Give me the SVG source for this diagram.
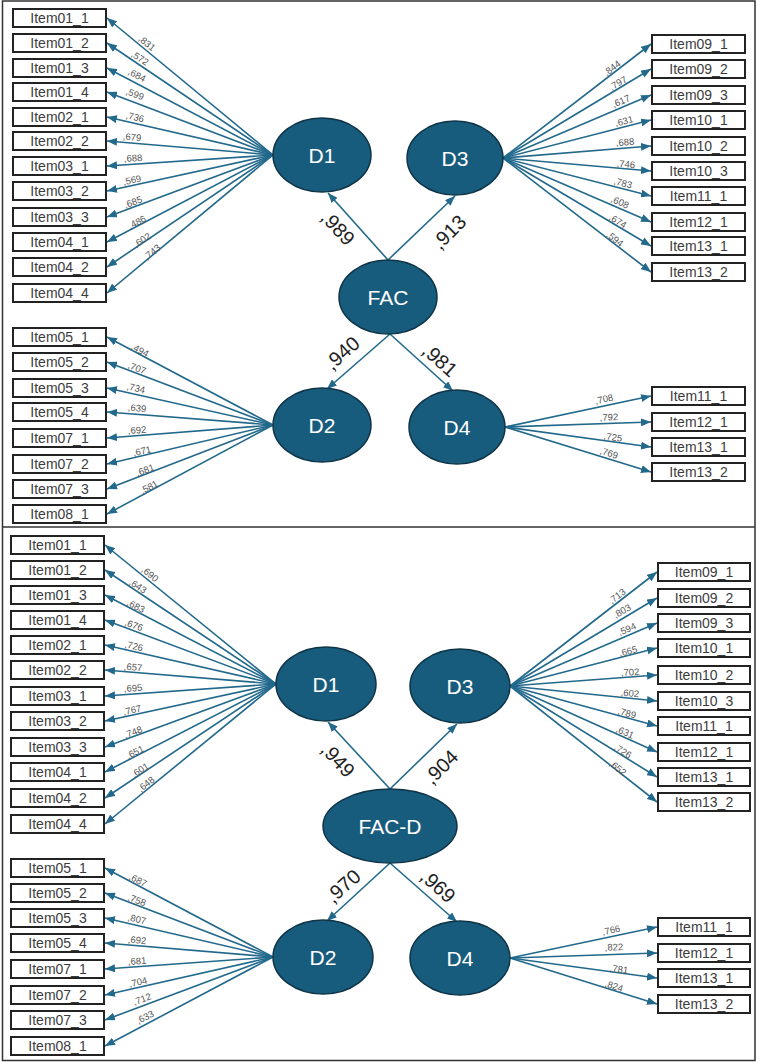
<svg xmlns="http://www.w3.org/2000/svg" width="757" height="1063" viewBox="0 0 757 1063">
<style>
.bx rect{fill:#fff;stroke:#222;stroke-width:2}
.bx text{font-family:"Liberation Sans",Arial,sans-serif;font-size:14px;fill:#3c3c3c;text-anchor:middle}
.lv ellipse{fill:#185c7d;stroke:#0f3447;stroke-width:1.5}
.lv text{font-family:"Liberation Sans",Arial,sans-serif;font-size:21px;fill:#fff;text-anchor:middle}
.ar{stroke:#22698c;stroke-width:1.6;fill:none;marker-end:url(#ah)}
.ld{font-family:"Liberation Sans",Arial,sans-serif;font-size:9.5px;fill:#555;text-anchor:middle}
.bg{font-family:"Liberation Sans",Arial,sans-serif;font-size:20px;fill:#222;text-anchor:middle}
.frame{fill:none;stroke:#333;stroke-width:1.5}
</style>
<defs>
<marker id="ah" markerUnits="userSpaceOnUse" markerWidth="10" markerHeight="8" refX="10" refY="4" orient="auto"><path d="M0,0 L10,4 L0,8 z" fill="#22698c"/></marker>
</defs>
<rect x="0" y="0" width="757" height="1063" fill="#fff"/>
<rect class="frame" x="2.5" y="1" width="752.5" height="1059.5"/>
<line class="frame" x1="2.5" y1="527" x2="755" y2="527"/>

<g id="connectors">
<!-- top D1 -->
<line class="ar" x1="273" y1="155" x2="107" y2="18"/>
<line class="ar" x1="273" y1="155" x2="107" y2="43"/>
<line class="ar" x1="273" y1="155" x2="107" y2="68"/>
<line class="ar" x1="273" y1="155" x2="107" y2="92"/>
<line class="ar" x1="273" y1="155" x2="107" y2="117"/>
<line class="ar" x1="273" y1="155" x2="107" y2="141"/>
<line class="ar" x1="273" y1="155" x2="107" y2="166"/>
<line class="ar" x1="273" y1="155" x2="107" y2="191"/>
<line class="ar" x1="273" y1="155" x2="107" y2="217"/>
<line class="ar" x1="273" y1="155" x2="107" y2="242"/>
<line class="ar" x1="273" y1="155" x2="107" y2="267"/>
<line class="ar" x1="273" y1="155" x2="107" y2="293"/>
<!-- top D2 -->
<line class="ar" x1="273" y1="425" x2="107" y2="337"/>
<line class="ar" x1="273" y1="425" x2="107" y2="362"/>
<line class="ar" x1="273" y1="425" x2="107" y2="388"/>
<line class="ar" x1="273" y1="425" x2="107" y2="412"/>
<line class="ar" x1="273" y1="425" x2="107" y2="438"/>
<line class="ar" x1="273" y1="425" x2="107" y2="464"/>
<line class="ar" x1="273" y1="425" x2="107" y2="489"/>
<line class="ar" x1="273" y1="425" x2="107" y2="514"/>
<!-- top D3 -->
<line class="ar" x1="503" y1="158" x2="651" y2="44"/>
<line class="ar" x1="503" y1="158" x2="651" y2="69"/>
<line class="ar" x1="503" y1="158" x2="651" y2="95"/>
<line class="ar" x1="503" y1="158" x2="651" y2="120"/>
<line class="ar" x1="503" y1="158" x2="651" y2="146"/>
<line class="ar" x1="503" y1="158" x2="651" y2="171"/>
<line class="ar" x1="503" y1="158" x2="651" y2="196"/>
<line class="ar" x1="503" y1="158" x2="651" y2="222"/>
<line class="ar" x1="503" y1="158" x2="651" y2="246"/>
<line class="ar" x1="503" y1="158" x2="651" y2="272"/>
<!-- top D4 -->
<line class="ar" x1="505" y1="427" x2="651" y2="396"/>
<line class="ar" x1="505" y1="427" x2="651" y2="422"/>
<line class="ar" x1="505" y1="427" x2="651" y2="447"/>
<line class="ar" x1="505" y1="427" x2="651" y2="472"/>
<!-- top FAC -->
<line class="ar" x1="388" y1="260" x2="328" y2="193"/>
<line class="ar" x1="388" y1="260" x2="455" y2="196"/>
<line class="ar" x1="390" y1="334" x2="327" y2="389"/>
<line class="ar" x1="390" y1="334" x2="453" y2="391"/>
<!-- bottom D1 -->
<line class="ar" x1="276" y1="684" x2="105" y2="545"/>
<line class="ar" x1="276" y1="684" x2="105" y2="570"/>
<line class="ar" x1="276" y1="684" x2="105" y2="595"/>
<line class="ar" x1="276" y1="684" x2="105" y2="620"/>
<line class="ar" x1="276" y1="684" x2="105" y2="645"/>
<line class="ar" x1="276" y1="684" x2="105" y2="670"/>
<line class="ar" x1="276" y1="684" x2="105" y2="696"/>
<line class="ar" x1="276" y1="684" x2="105" y2="721"/>
<line class="ar" x1="276" y1="684" x2="105" y2="747"/>
<line class="ar" x1="276" y1="684" x2="105" y2="772"/>
<line class="ar" x1="276" y1="684" x2="105" y2="798"/>
<line class="ar" x1="276" y1="684" x2="105" y2="824"/>
<!-- bottom D2 -->
<line class="ar" x1="273" y1="957" x2="105" y2="868"/>
<line class="ar" x1="273" y1="957" x2="105" y2="893"/>
<line class="ar" x1="273" y1="957" x2="105" y2="918"/>
<line class="ar" x1="273" y1="957" x2="105" y2="943"/>
<line class="ar" x1="273" y1="957" x2="105" y2="969"/>
<line class="ar" x1="273" y1="957" x2="105" y2="995"/>
<line class="ar" x1="273" y1="957" x2="105" y2="1020"/>
<line class="ar" x1="273" y1="957" x2="105" y2="1046"/>
<!-- bottom D3 -->
<line class="ar" x1="510" y1="686" x2="657" y2="572"/>
<line class="ar" x1="510" y1="686" x2="657" y2="598"/>
<line class="ar" x1="510" y1="686" x2="657" y2="623"/>
<line class="ar" x1="510" y1="686" x2="657" y2="648"/>
<line class="ar" x1="510" y1="686" x2="657" y2="675"/>
<line class="ar" x1="510" y1="686" x2="657" y2="701"/>
<line class="ar" x1="510" y1="686" x2="657" y2="726"/>
<line class="ar" x1="510" y1="686" x2="657" y2="752"/>
<line class="ar" x1="510" y1="686" x2="657" y2="777"/>
<line class="ar" x1="510" y1="686" x2="657" y2="802"/>
<!-- bottom D4 -->
<line class="ar" x1="510" y1="958" x2="657" y2="927"/>
<line class="ar" x1="510" y1="958" x2="657" y2="953"/>
<line class="ar" x1="510" y1="958" x2="657" y2="978"/>
<line class="ar" x1="510" y1="958" x2="657" y2="1004"/>
<!-- bottom FAC-D -->
<line class="ar" x1="390" y1="789" x2="328" y2="722"/>
<line class="ar" x1="390" y1="789" x2="457" y2="724"/>
<line class="ar" x1="390" y1="863" x2="327" y2="921"/>
<line class="ar" x1="390" y1="863" x2="457" y2="922"/>
</g>

<g id="loadings">
<text class="ld" transform="translate(147,43) rotate(39.4)" y="3.4">,831</text>
<text class="ld" transform="translate(140,58) rotate(33.8)" y="3.4">,572</text>
<text class="ld" transform="translate(137,75) rotate(27.5)" y="3.4">,684</text>
<text class="ld" transform="translate(135,94) rotate(20.7)" y="3.4">,599</text>
<text class="ld" transform="translate(135,117) rotate(12.8)" y="3.4">,736</text>
<text class="ld" transform="translate(132,137) rotate(4.8)" y="3.4">,679</text>
<text class="ld" transform="translate(133,158) rotate(-3.8)" y="3.4">,688</text>
<text class="ld" transform="translate(132,180) rotate(-12.2)" y="3.4">,569</text>
<text class="ld" transform="translate(133,202) rotate(-20.4)" y="3.4">,685</text>
<text class="ld" transform="translate(137,222) rotate(-27.5)" y="3.4">,486</text>
<text class="ld" transform="translate(142,240) rotate(-33.8)" y="3.4">,602</text>
<text class="ld" transform="translate(152,252) rotate(-39.6)" y="3.4">,743</text>

<text class="ld" transform="translate(140,350) rotate(28.1)" y="3.4">,494</text>
<text class="ld" transform="translate(137,368) rotate(21)" y="3.4">,707</text>
<text class="ld" transform="translate(136,388) rotate(12.8)" y="3.4">,734</text>
<text class="ld" transform="translate(137,408) rotate(4.8)" y="3.4">,639</text>
<text class="ld" transform="translate(137,430) rotate(-4.1)" y="3.4">,692</text>
<text class="ld" transform="translate(142,451) rotate(-12.8)" y="3.4">,671</text>
<text class="ld" transform="translate(145,470) rotate(-20.7)" y="3.4">,681</text>
<text class="ld" transform="translate(149,487) rotate(-27.8)" y="3.4">,581</text>

<text class="ld" transform="translate(612,68) rotate(-37.5)" y="3.4">,844</text>
<text class="ld" transform="translate(618,83) rotate(-30.9)" y="3.4">,797</text>
<text class="ld" transform="translate(621,101) rotate(-22.9)" y="3.4">,617</text>
<text class="ld" transform="translate(624,121) rotate(-14.1)" y="3.4">,631</text>
<text class="ld" transform="translate(625,142) rotate(-4.3)" y="3.4">,688</text>
<text class="ld" transform="translate(626,164) rotate(5.4)" y="3.4">,746</text>
<text class="ld" transform="translate(623,183) rotate(14.9)" y="3.4">,783</text>
<text class="ld" transform="translate(620,202) rotate(23.9)" y="3.4">,608</text>
<text class="ld" transform="translate(618,221) rotate(31.2)" y="3.4">,674</text>
<text class="ld" transform="translate(615,239) rotate(38)" y="3.4">,594</text>

<text class="ld" transform="translate(604,399) rotate(-12.2)" y="3.4">,708</text>
<text class="ld" transform="translate(609,417) rotate(-2)" y="3.4">,792</text>
<text class="ld" transform="translate(613,437) rotate(7.8)" y="3.4">,725</text>
<text class="ld" transform="translate(609,453) rotate(17.1)" y="3.4">,769</text>

<text class="ld" transform="translate(150,574) rotate(38.9)" y="3.4">,690</text>
<text class="ld" transform="translate(138,586) rotate(33.5)" y="3.4">,643</text>
<text class="ld" transform="translate(136,606) rotate(27.4)" y="3.4">,683</text>
<text class="ld" transform="translate(134,625) rotate(20.4)" y="3.4">,676</text>
<text class="ld" transform="translate(134,646) rotate(12.8)" y="3.4">,726</text>
<text class="ld" transform="translate(133,667) rotate(4.7)" y="3.4">,657</text>
<text class="ld" transform="translate(133,688) rotate(-4)" y="3.4">,695</text>
<text class="ld" transform="translate(132,710) rotate(-12.1)" y="3.4">,767</text>
<text class="ld" transform="translate(133,732) rotate(-20.1)" y="3.4">,748</text>
<text class="ld" transform="translate(135,752) rotate(-27.1)" y="3.4">,651</text>
<text class="ld" transform="translate(140,770) rotate(-33.5)" y="3.4">,601</text>
<text class="ld" transform="translate(146,784) rotate(-39.1)" y="3.4">,648</text>

<text class="ld" transform="translate(138,880) rotate(27.8)" y="3.4">,687</text>
<text class="ld" transform="translate(137,900) rotate(20.7)" y="3.4">,758</text>
<text class="ld" transform="translate(137,919) rotate(13)" y="3.4">,807</text>
<text class="ld" transform="translate(137,940) rotate(4.7)" y="3.4">,692</text>
<text class="ld" transform="translate(137,961) rotate(-4.1)" y="3.4">,681</text>
<text class="ld" transform="translate(138,982) rotate(-12.7)" y="3.4">,704</text>
<text class="ld" transform="translate(142,999) rotate(-20.4)" y="3.4">,712</text>
<text class="ld" transform="translate(145,1017) rotate(-27.8)" y="3.4">,633</text>

<text class="ld" transform="translate(617,596) rotate(-37.2)" y="3.4">,713</text>
<text class="ld" transform="translate(622,611) rotate(-30.3)" y="3.4">,803</text>
<text class="ld" transform="translate(627,629) rotate(-22.6)" y="3.4">,594</text>
<text class="ld" transform="translate(628,651) rotate(-13.9)" y="3.4">,665</text>
<text class="ld" transform="translate(630,672) rotate(-3.8)" y="3.4">,702</text>
<text class="ld" transform="translate(630,693) rotate(6.1)" y="3.4">,602</text>
<text class="ld" transform="translate(627,713) rotate(15.4)" y="3.4">,789</text>
<text class="ld" transform="translate(625,732) rotate(24.2)" y="3.4">,631</text>
<text class="ld" transform="translate(623,751) rotate(31.7)" y="3.4">,726</text>
<text class="ld" transform="translate(618,768) rotate(38.1)" y="3.4">,652</text>

<text class="ld" transform="translate(611,930) rotate(-11.8)" y="3.4">,766</text>
<text class="ld" transform="translate(614,947) rotate(-1.9)" y="3.4">,822</text>
<text class="ld" transform="translate(619,969) rotate(7.7)" y="3.4">,781</text>
<text class="ld" transform="translate(614,986) rotate(17.3)" y="3.4">,824</text>

<text class="bg" transform="translate(338,228) rotate(47)" y="7">,989</text>
<text class="bg" transform="translate(449,232) rotate(-45)" y="7">,913</text>
<text class="bg" transform="translate(342,353) rotate(-42)" y="7">,940</text>
<text class="bg" transform="translate(440,360) rotate(42)" y="7">,981</text>
<text class="bg" transform="translate(338,760) rotate(47)" y="7">,949</text>
<text class="bg" transform="translate(441,767) rotate(-45)" y="7">,904</text>
<text class="bg" transform="translate(343,886) rotate(-42)" y="7">,970</text>
<text class="bg" transform="translate(438,886) rotate(42)" y="7">,969</text>
</g>

<!-- latent nodes top -->
<g id="t-D1" class="lv"><ellipse cx="322" cy="155" rx="49" ry="37"/><text x="322" y="162.5">D1</text></g>
<g id="t-D3" class="lv"><ellipse cx="455" cy="158" rx="48" ry="37"/><text x="455" y="165.5">D3</text></g>
<g id="t-FAC" class="lv"><ellipse cx="388" cy="297" rx="49" ry="37"/><text x="388" y="304.5">FAC</text></g>
<g id="t-D2" class="lv"><ellipse cx="322" cy="425" rx="49" ry="37"/><text x="322" y="432.5">D2</text></g>
<g id="t-D4" class="lv"><ellipse cx="457" cy="427" rx="48" ry="37"/><text x="457" y="434.5">D4</text></g>
<!-- latent nodes bottom -->
<g id="b-D1" class="lv"><ellipse cx="326" cy="684" rx="50" ry="37"/><text x="326" y="691.5">D1</text></g>
<g id="b-D3" class="lv"><ellipse cx="460" cy="686" rx="50" ry="37"/><text x="460" y="693.5">D3</text></g>
<g id="b-FACD" class="lv"><ellipse cx="390" cy="826" rx="67" ry="37"/><text x="390" y="833.5">FAC-D</text></g>
<g id="b-D2" class="lv"><ellipse cx="323" cy="957" rx="50" ry="37"/><text x="323" y="964.5">D2</text></g>
<g id="b-D4" class="lv"><ellipse cx="460" cy="958" rx="50" ry="37"/><text x="460" y="965.5">D4</text></g>

<!-- top-left items -->
<g id="t-Item01_1" class="bx"><rect x="13" y="9" width="93" height="18"/><text x="59.5" y="23">Item01_1</text></g>
<g id="t-Item01_2" class="bx"><rect x="13" y="34" width="93" height="18"/><text x="59.5" y="48">Item01_2</text></g>
<g id="t-Item01_3" class="bx"><rect x="13" y="59" width="93" height="18"/><text x="59.5" y="73">Item01_3</text></g>
<g id="t-Item01_4" class="bx"><rect x="13" y="83" width="93" height="18"/><text x="59.5" y="97">Item01_4</text></g>
<g id="t-Item02_1" class="bx"><rect x="13" y="108" width="93" height="18"/><text x="59.5" y="122">Item02_1</text></g>
<g id="t-Item02_2" class="bx"><rect x="13" y="132" width="93" height="18"/><text x="59.5" y="146">Item02_2</text></g>
<g id="t-Item03_1" class="bx"><rect x="13" y="157" width="93" height="18"/><text x="59.5" y="171">Item03_1</text></g>
<g id="t-Item03_2" class="bx"><rect x="13" y="182" width="93" height="18"/><text x="59.5" y="196">Item03_2</text></g>
<g id="t-Item03_3" class="bx"><rect x="13" y="208" width="93" height="18"/><text x="59.5" y="222">Item03_3</text></g>
<g id="t-Item04_1" class="bx"><rect x="13" y="233" width="93" height="18"/><text x="59.5" y="247">Item04_1</text></g>
<g id="t-Item04_2" class="bx"><rect x="13" y="258" width="93" height="18"/><text x="59.5" y="272">Item04_2</text></g>
<g id="t-Item04_4" class="bx"><rect x="13" y="284" width="93" height="18"/><text x="59.5" y="298">Item04_4</text></g>
<g id="t-Item05_1" class="bx"><rect x="13" y="328" width="93" height="18"/><text x="59.5" y="342">Item05_1</text></g>
<g id="t-Item05_2" class="bx"><rect x="13" y="353" width="93" height="18"/><text x="59.5" y="367">Item05_2</text></g>
<g id="t-Item05_3" class="bx"><rect x="13" y="379" width="93" height="18"/><text x="59.5" y="393">Item05_3</text></g>
<g id="t-Item05_4" class="bx"><rect x="13" y="403" width="93" height="18"/><text x="59.5" y="417">Item05_4</text></g>
<g id="t-Item07_1" class="bx"><rect x="13" y="429" width="93" height="18"/><text x="59.5" y="443">Item07_1</text></g>
<g id="t-Item07_2" class="bx"><rect x="13" y="455" width="93" height="18"/><text x="59.5" y="469">Item07_2</text></g>
<g id="t-Item07_3" class="bx"><rect x="13" y="480" width="93" height="18"/><text x="59.5" y="494">Item07_3</text></g>
<g id="t-Item08_1" class="bx"><rect x="13" y="505" width="93" height="18"/><text x="59.5" y="519">Item08_1</text></g>
<!-- top-right items -->
<g id="t-Item09_1" class="bx"><rect x="652" y="35" width="93" height="18"/><text x="698.5" y="49">Item09_1</text></g>
<g id="t-Item09_2" class="bx"><rect x="652" y="60" width="93" height="18"/><text x="698.5" y="74">Item09_2</text></g>
<g id="t-Item09_3" class="bx"><rect x="652" y="86" width="93" height="18"/><text x="698.5" y="100">Item09_3</text></g>
<g id="t-Item10_1" class="bx"><rect x="652" y="111" width="93" height="18"/><text x="698.5" y="125">Item10_1</text></g>
<g id="t-Item10_2" class="bx"><rect x="652" y="137" width="93" height="18"/><text x="698.5" y="151">Item10_2</text></g>
<g id="t-Item10_3" class="bx"><rect x="652" y="162" width="93" height="18"/><text x="698.5" y="176">Item10_3</text></g>
<g id="t-Item11_1a" class="bx"><rect x="652" y="187" width="93" height="18"/><text x="698.5" y="201">Item11_1</text></g>
<g id="t-Item12_1a" class="bx"><rect x="652" y="213" width="93" height="18"/><text x="698.5" y="227">Item12_1</text></g>
<g id="t-Item13_1a" class="bx"><rect x="652" y="237" width="93" height="18"/><text x="698.5" y="251">Item13_1</text></g>
<g id="t-Item13_2a" class="bx"><rect x="652" y="263" width="93" height="18"/><text x="698.5" y="277">Item13_2</text></g>
<g id="t-Item11_1b" class="bx"><rect x="652" y="387" width="93" height="18"/><text x="698.5" y="401">Item11_1</text></g>
<g id="t-Item12_1b" class="bx"><rect x="652" y="413" width="93" height="18"/><text x="698.5" y="427">Item12_1</text></g>
<g id="t-Item13_1b" class="bx"><rect x="652" y="438" width="93" height="18"/><text x="698.5" y="452">Item13_1</text></g>
<g id="t-Item13_2b" class="bx"><rect x="652" y="463" width="93" height="18"/><text x="698.5" y="477">Item13_2</text></g>
<!-- bottom-left items -->
<g id="b-Item01_1" class="bx"><rect x="11" y="536" width="93" height="18"/><text x="57.5" y="550">Item01_1</text></g>
<g id="b-Item01_2" class="bx"><rect x="11" y="561" width="93" height="18"/><text x="57.5" y="575">Item01_2</text></g>
<g id="b-Item01_3" class="bx"><rect x="11" y="586" width="93" height="18"/><text x="57.5" y="600">Item01_3</text></g>
<g id="b-Item01_4" class="bx"><rect x="11" y="611" width="93" height="18"/><text x="57.5" y="625">Item01_4</text></g>
<g id="b-Item02_1" class="bx"><rect x="11" y="636" width="93" height="18"/><text x="57.5" y="650">Item02_1</text></g>
<g id="b-Item02_2" class="bx"><rect x="11" y="661" width="93" height="18"/><text x="57.5" y="675">Item02_2</text></g>
<g id="b-Item03_1" class="bx"><rect x="11" y="687" width="93" height="18"/><text x="57.5" y="701">Item03_1</text></g>
<g id="b-Item03_2" class="bx"><rect x="11" y="712" width="93" height="18"/><text x="57.5" y="726">Item03_2</text></g>
<g id="b-Item03_3" class="bx"><rect x="11" y="738" width="93" height="18"/><text x="57.5" y="752">Item03_3</text></g>
<g id="b-Item04_1" class="bx"><rect x="11" y="763" width="93" height="18"/><text x="57.5" y="777">Item04_1</text></g>
<g id="b-Item04_2" class="bx"><rect x="11" y="789" width="93" height="18"/><text x="57.5" y="803">Item04_2</text></g>
<g id="b-Item04_4" class="bx"><rect x="11" y="815" width="93" height="18"/><text x="57.5" y="829">Item04_4</text></g>
<g id="b-Item05_1" class="bx"><rect x="11" y="859" width="93" height="18"/><text x="57.5" y="873">Item05_1</text></g>
<g id="b-Item05_2" class="bx"><rect x="11" y="884" width="93" height="18"/><text x="57.5" y="898">Item05_2</text></g>
<g id="b-Item05_3" class="bx"><rect x="11" y="909" width="93" height="18"/><text x="57.5" y="923">Item05_3</text></g>
<g id="b-Item05_4" class="bx"><rect x="11" y="934" width="93" height="18"/><text x="57.5" y="948">Item05_4</text></g>
<g id="b-Item07_1" class="bx"><rect x="11" y="960" width="93" height="18"/><text x="57.5" y="974">Item07_1</text></g>
<g id="b-Item07_2" class="bx"><rect x="11" y="986" width="93" height="18"/><text x="57.5" y="1000">Item07_2</text></g>
<g id="b-Item07_3" class="bx"><rect x="11" y="1011" width="93" height="18"/><text x="57.5" y="1025">Item07_3</text></g>
<g id="b-Item08_1" class="bx"><rect x="11" y="1037" width="93" height="18"/><text x="57.5" y="1051">Item08_1</text></g>
<!-- bottom-right items -->
<g id="b-Item09_1" class="bx"><rect x="658" y="563" width="92" height="18"/><text x="704" y="577">Item09_1</text></g>
<g id="b-Item09_2" class="bx"><rect x="658" y="589" width="92" height="18"/><text x="704" y="603">Item09_2</text></g>
<g id="b-Item09_3" class="bx"><rect x="658" y="614" width="92" height="18"/><text x="704" y="628">Item09_3</text></g>
<g id="b-Item10_1" class="bx"><rect x="658" y="639" width="92" height="18"/><text x="704" y="653">Item10_1</text></g>
<g id="b-Item10_2" class="bx"><rect x="658" y="666" width="92" height="18"/><text x="704" y="680">Item10_2</text></g>
<g id="b-Item10_3" class="bx"><rect x="658" y="692" width="92" height="18"/><text x="704" y="706">Item10_3</text></g>
<g id="b-Item11_1a" class="bx"><rect x="658" y="717" width="92" height="18"/><text x="704" y="731">Item11_1</text></g>
<g id="b-Item12_1a" class="bx"><rect x="658" y="743" width="92" height="18"/><text x="704" y="757">Item12_1</text></g>
<g id="b-Item13_1a" class="bx"><rect x="658" y="768" width="92" height="18"/><text x="704" y="782">Item13_1</text></g>
<g id="b-Item13_2a" class="bx"><rect x="658" y="793" width="92" height="18"/><text x="704" y="807">Item13_2</text></g>
<g id="b-Item11_1b" class="bx"><rect x="658" y="918" width="92" height="18"/><text x="704" y="932">Item11_1</text></g>
<g id="b-Item12_1b" class="bx"><rect x="658" y="944" width="92" height="18"/><text x="704" y="958">Item12_1</text></g>
<g id="b-Item13_1b" class="bx"><rect x="658" y="969" width="92" height="18"/><text x="704" y="983">Item13_1</text></g>
<g id="b-Item13_2b" class="bx"><rect x="658" y="995" width="92" height="18"/><text x="704" y="1009">Item13_2</text></g>
</svg>
